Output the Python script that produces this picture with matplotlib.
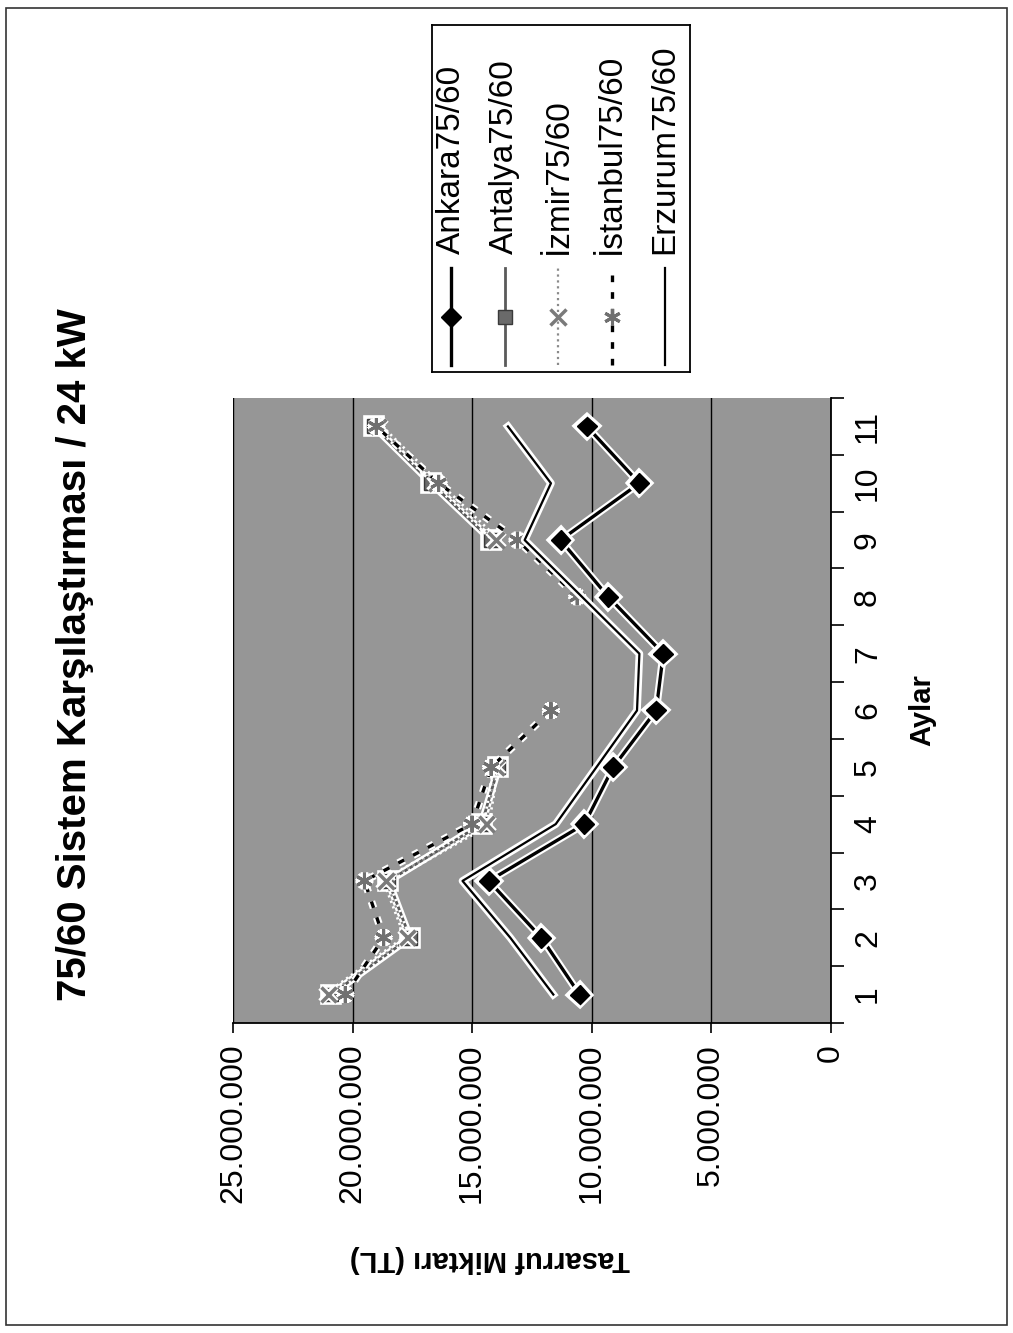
import numpy as np
import matplotlib
matplotlib.use("Agg")
import matplotlib.pyplot as plt
import matplotlib.patheffects as pe
from matplotlib.patches import Rectangle
from matplotlib.ticker import FixedLocator

plt.rcParams["font.family"] = ["Liberation Sans", "DejaVu Sans"]

# chart is printed rotated 90 deg CCW: months run bottom->top, values right->left
months = list(range(1, 12))
nan = np.nan
# savings in million TL
ankara = [10.5, 12.1, 14.3, 10.3, 9.1, 7.3, 7.0, 9.3, 11.3, 8.0, 10.2]
antalya = [20.9, 17.6, 18.5, 14.6, 13.9, nan, nan, nan, 14.2, 16.7, 19.1]
izmir = [21.0, 17.7, 18.6, 14.4, 14.0, nan, nan, nan, 14.0, 16.5, 18.9]
istanbul = [20.3, 18.7, 19.5, 15.0, 14.2, 11.7, nan, 10.6, 13.1, 16.4, 19.0]
erzurum = [11.6, 13.4, 15.4, 11.5, 9.8, 8.1, 8.0, 10.4, 12.8, 11.7, 13.5]

names = ["Ankara75/60", "Antalya75/60", "İzmir75/60", "İstanbul75/60", "Erzurum75/60"]
series = [ankara, antalya, izmir, istanbul, erzurum]
value_ticks = [0, 5e6, 10e6, 15e6, 20e6, 25e6]

halo = [pe.Stroke(linewidth=5.5, foreground="white"), pe.Normal()]
styles = [
    dict(color="black", lw=2.4, ls="-", marker="D", ms=10, mfc="black", mec="black"),
    dict(color="#5a5a5a", lw=2.0, ls="-", marker="s", ms=10, mfc="#6a6a6a", mec="#3a3a3a"),
    dict(color="#8a8a8a", lw=1.6, ls=":", marker="x", ms=11, mew=2.5, mec="#7a7a7a"),
    dict(color="black", lw=2.4, ls=(0, (2, 3)), marker=(6, 2, 0), ms=12, mew=2.2, mec="#707070"),
    dict(color="black", lw=1.6, ls="-", marker=None),
]

fig = plt.figure(figsize=(10.13, 13.33), dpi=100)
fig.patches.append(Rectangle((0.006, 0.006), 0.988, 0.988, transform=fig.transFigure,
                             fill=False, lw=1.2, ec="#333333"))

ax = fig.add_axes([0.230, 0.2326, 0.590, 0.4688])
ax.set_facecolor("#969696")
for s, st in zip(series, styles):
    ax.plot(np.array(s) * 1e6, months, path_effects=halo, **st)

ax.set_xlim(25e6, 0)
ax.set_ylim(0.5, 11.5)
ax.xaxis.set_major_locator(FixedLocator(value_ticks))
ax.set_xticklabels(["0" if v == 0 else f"{v:,.0f}".replace(",", ".") for v in value_ticks],
                   rotation=90, fontsize=23)
ax.grid(axis="x", color="black", lw=1.0)
ax.tick_params(axis="x", direction="out", length=7, width=1.2, pad=8)

ax.yaxis.tick_right()
ax.yaxis.set_label_position("right")
ax.set_yticks(months)
ax.set_yticklabels([str(m) for m in months], rotation=90, fontsize=23, va="center")
ax.yaxis.set_minor_locator(FixedLocator(np.arange(0.5, 12.0, 1.0)))
ax.tick_params(axis="y", which="major", length=0, pad=16)
ax.tick_params(axis="y", which="minor", direction="out", length=9, width=1.2)
for side in ["top", "left"]:
    ax.spines[side].set_visible(False)
for side in ["bottom", "right"]:
    ax.spines[side].set_linewidth(1.3)

ax.set_ylabel("Aylar", rotation=90, fontsize=21, fontweight="bold", labelpad=18)
ax.set_xlabel("Tasarruf Miktarı (TL)", rotation=180, fontsize=21, fontweight="bold")
ax.xaxis.set_label_coords(0.43, -0.355)

fig.text(0.074, 0.509, "75/60 Sistem Karşılaştırması / 24 kW", rotation=90,
         ha="center", va="center", fontsize=29, fontweight="bold")

# legend drawn by hand, rotated like the rest of the page
lg = fig.add_axes([0.4265, 0.7209, 0.2547, 0.2603])
lg.set_xlim(0, 1)
lg.set_ylim(0, 1)
lg.set_xticks([])
lg.set_yticks([])
for sp in lg.spines.values():
    sp.set_linewidth(1.3)
for i, (name, st) in enumerate(zip(names, styles)):
    xc = 0.075 + 0.207 * i
    line_st = {k: v for k, v in st.items() if k not in ("marker", "ms", "mew", "mfc", "mec")}
    lg.plot([xc, xc], [0.02, 0.30], **line_st)
    if st.get("marker") is not None:
        lg.plot([xc], [0.16], ls="none", **{k: v for k, v in st.items()
                                           if k in ("marker", "ms", "mew", "mfc", "mec")})
    lg.text(xc, 0.34, name, rotation=90, ha="center", va="bottom", fontsize=24)

fig.savefig("out.png", dpi=100)
